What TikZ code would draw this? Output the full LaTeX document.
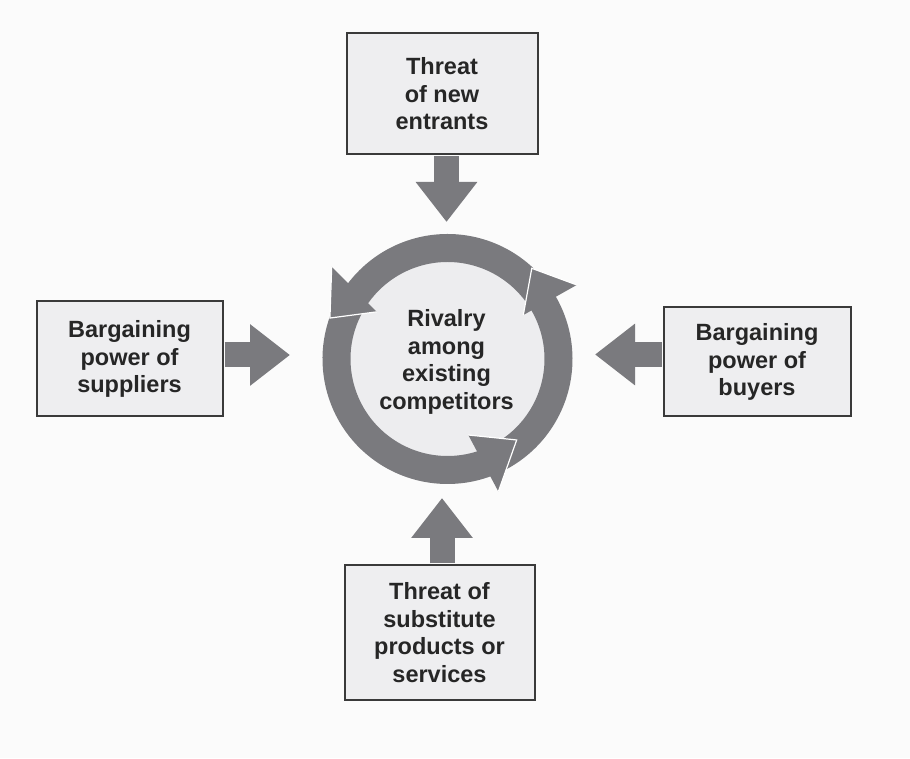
\documentclass[tikz,border=0pt]{standalone}
\usepackage{fontspec}
\setmainfont{Liberation Sans}
\usetikzlibrary{arrows.meta}
\definecolor{bg}{HTML}{FBFBFB}
\definecolor{boxfill}{HTML}{EEEEF0}
\definecolor{boxline}{HTML}{3A3A3A}
\definecolor{ringgray}{HTML}{7A7A7E}
\definecolor{diskfill}{HTML}{EDEDEF}
\definecolor{txt}{HTML}{262626}
\begin{document}
\begin{tikzpicture}[x=1pt,y=1pt,
  force/.style={draw=boxline, line width=2pt, fill=boxfill, text=txt,
    font=\bfseries\fontsize{23.5}{27.5}\selectfont, align=center, inner sep=0pt},
  centretext/.style={text=txt, font=\bfseries\fontsize{23.5}{27.7}\selectfont, align=center, inner sep=0pt},
  push/.style={draw=ringgray, line width=25pt, -{Triangle[length=40pt,width=59pt]}},
  ringbody/.style={draw=ringgray, line width=28pt},
  headstyle/.style={fill=ringgray, draw=white, line width=1.2pt, line join=miter}]
\fill[bg] (0,0) rectangle (910,758);
\useasboundingbox (0,0) rectangle (910,758);

% the four forces
\node[force, minimum width=191pt, minimum height=121pt] (entrants) at (442,664) {Threat\\of new\\entrants};
\node[force, minimum width=186pt, minimum height=115pt] (suppliers) at (129.5,399) {Bargaining\\power of\\suppliers};
\node[force, minimum width=187pt, minimum height=109pt] (buyers) at (757,396) {Bargaining\\power of\\buyers};
\node[force, minimum width=190pt, minimum height=134pt] (substitutes) at (439.5,125.5) {Threat of\\substitute\\products or\\services};

% the rivalry ring
\coordinate (c) at (447.5,399);
\fill[diskfill] (c) circle[radius=100pt];
\begin{scope}[shift={(c)}]
  \draw[ringbody] (32:111pt) arc[start angle=32, end angle=146.5, radius=111pt];
  \draw[ringbody] (148:111pt) arc[start angle=148, end angle=290.5, radius=111pt];
  \draw[ringbody] (-64:111pt) arc[start angle=-64, end angle=31.5, radius=111pt];
  \filldraw[headstyle] (141.5:148pt) -- (160.8:124.5pt) -- (146.3:85pt);
  \filldraw[headstyle] (29.8:149pt) -- (47.1:123.8pt) -- (30.1:87.6pt);
  \filldraw[headstyle] (-69:142pt) -- (-49.5:106.5pt) -- (-74.7:78.8pt);
\end{scope}
\node[centretext] (rivalry) at (446.5,396) {Rivalry\\among\\existing\\competitors};

% the pushing arrows
\coordinate (t1) at (446.5,536);
\coordinate (t2) at (290,403);
\coordinate (t3) at (595,403.5);
\coordinate (t4) at (442,260);
\draw[push] ([yshift=-1pt]entrants.south -| t1) -- (t1);
\draw[push] ([xshift=1pt]suppliers.east |- t2) -- (t2);
\draw[push] ([xshift=-1pt]buyers.west |- t3) -- (t3);
\draw[push] ([yshift=1pt]substitutes.north -| t4) -- (t4);
\end{tikzpicture}
\end{document}
